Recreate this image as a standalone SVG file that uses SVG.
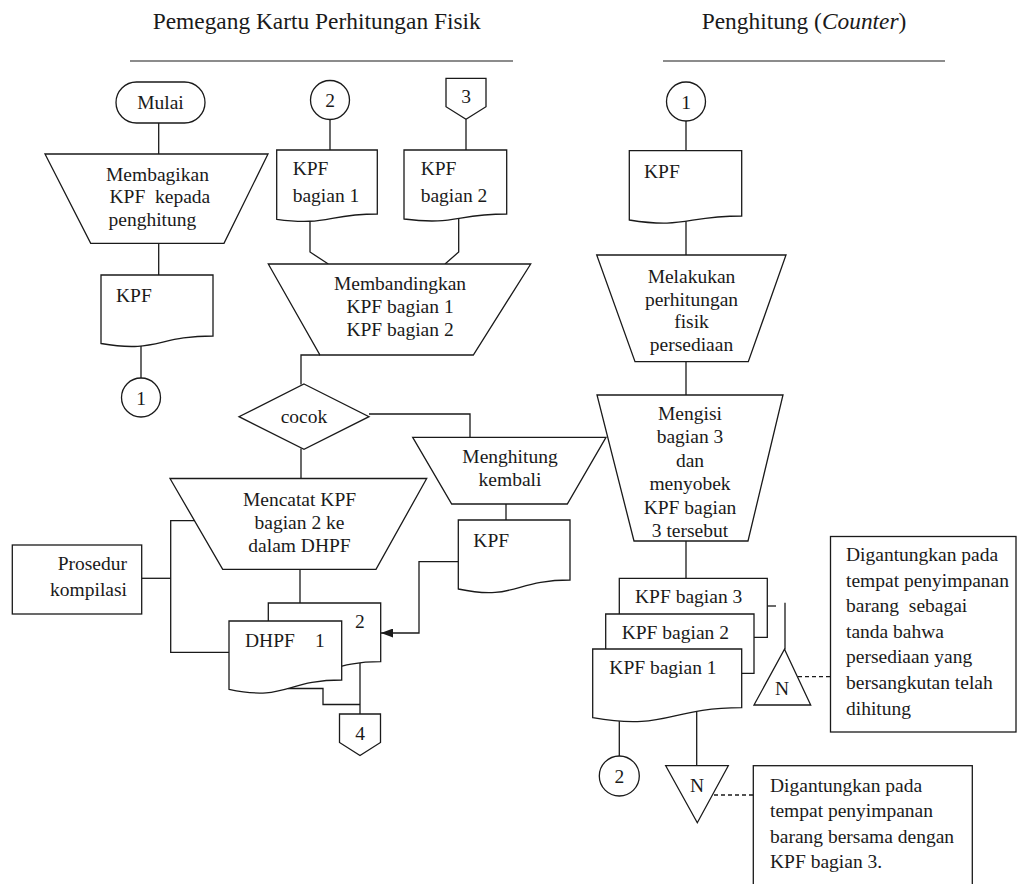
<svg xmlns="http://www.w3.org/2000/svg" width="1021" height="884" viewBox="0 0 1021 884">
  <style>
    .s { fill: #ffffff; stroke: #1a1a1a; stroke-width: 1.3; }
    .c { fill: none; stroke: #1a1a1a; stroke-width: 1.3; }
    .d { fill: none; stroke: #1a1a1a; stroke-width: 1.3; stroke-dasharray: 4 3; }
    .h { fill: none; stroke: #8c8c8c; stroke-width: 1.8; }
    .t { font-family: "Liberation Serif", "Times New Roman", serif; font-size: 19.5px; fill: #1a1a1a; }
    .m { text-anchor: middle; }
    .e { text-anchor: end; }
    .hd { font-family: "Liberation Serif", "Times New Roman", serif; font-size: 23.4px; fill: #1a1a1a; }
  </style>
  <defs>
    <marker id="arrow" markerUnits="userSpaceOnUse" markerWidth="12" markerHeight="9" refX="12" refY="4.5" orient="auto">
      <path d="M0,0 L12,4.5 L0,9 Z" fill="#1a1a1a"/>
    </marker>
  </defs>
  <rect width="1021" height="884" fill="#ffffff"/>

  <!-- lane headers -->
  <g id="headers">
    <text class="hd" x="152.7" y="29">Pemegang Kartu Perhitungan Fisik</text>
    <line class="h" x1="130" y1="61" x2="513" y2="61"/>
    <text class="hd" x="701.7" y="29">Penghitung (<tspan font-style="italic">Counter</tspan>)</text>
    <line class="h" x1="663" y1="61" x2="945" y2="61"/>
  </g>

  <!-- connectors -->
  <g id="connectors">
    <line class="c" x1="158.7" y1="123" x2="158.7" y2="154"/>
    <line class="c" x1="158.7" y1="243.3" x2="158.7" y2="275"/>
    <line class="c" x1="141" y1="345" x2="141" y2="378"/>
    <line class="c" x1="330" y1="119.5" x2="330" y2="150"/>
    <line class="c" x1="466" y1="119.3" x2="466" y2="150"/>
    <polyline class="c" points="310,221 310,252 328.3,264"/>
    <polyline class="c" points="458.7,218 458.7,252 445,264"/>
    <polyline class="c" points="320,355 301,355 301,384.5"/>
    <line class="c" x1="301" y1="448.5" x2="301" y2="478.5"/>
    <polyline class="c" points="369,414 470,414 470,437.3"/>
    <line class="c" x1="300" y1="569.3" x2="300" y2="603"/>
    <line class="c" x1="141.7" y1="578.3" x2="170.7" y2="578.3"/>
    <polyline class="c" points="195,520.7 170.7,520.7 170.7,652.3 229,652.3"/>
    <line class="c" x1="506" y1="504" x2="506" y2="520"/>
    <polyline class="c" points="458.3,561.7 419,561.7 419,633 381,633" marker-end="url(#arrow)"/>
    <line class="c" x1="360" y1="663" x2="360" y2="714"/>
    <polyline class="c" points="288,688.5 323,688.5 323,704.5 360,704.5"/>
    <line class="c" x1="686" y1="120.7" x2="686" y2="150.7"/>
    <line class="c" x1="686" y1="221" x2="686" y2="255"/>
    <line class="c" x1="686" y1="361.7" x2="686" y2="395"/>
    <line class="c" x1="686" y1="541" x2="686" y2="578.3"/>
    <line class="c" x1="767.3" y1="606" x2="776" y2="606"/>
    <line class="c" x1="785" y1="602.7" x2="785" y2="649.5"/>
    <line class="d" x1="798" y1="676.7" x2="830.5" y2="676.7"/>
    <line class="c" x1="619.3" y1="720" x2="619.3" y2="756"/>
    <line class="c" x1="696.7" y1="712" x2="696.7" y2="765.7"/>
    <line class="d" x1="714" y1="795" x2="753.3" y2="795"/>
  </g>

  <!-- left lane -->
  <g id="mulai">
    <rect class="s" x="116" y="82" width="89" height="41" rx="20.5"/>
    <text class="t m" x="160.5" y="109">Mulai</text>
  </g>
  <g id="membagikan">
    <polygon class="s" points="45,154 268,154 224,243.3 90.7,243.3"/>
    <text class="t" x="106" y="180.7">Membagikan</text>
    <text class="t" x="109.5" y="203" xml:space="preserve">KPF  kepada</text>
    <text class="t" x="108.5" y="226">penghitung</text>
  </g>
  <g id="kpf-out">
    <path class="s" d="M101,275 H213 V336 C157,336 157,353.3 101,343.5 Z"/>
    <text class="t" x="116" y="301.7">KPF</text>
  </g>
  <g id="conn-1a">
    <circle class="s" cx="141" cy="397.5" r="19.5"/>
    <text class="t m" x="141" y="405">1</text>
  </g>

  <g id="conn-2a">
    <circle class="s" cx="330" cy="100" r="19.5"/>
    <text class="t m" x="330" y="107">2</text>
  </g>
  <g id="conn-3">
    <path class="s" d="M446,78.3 H486 V106.7 L466,119.3 L446,106.7 Z"/>
    <text class="t m" x="466" y="103">3</text>
  </g>
  <g id="kpf-b1">
    <path class="s" d="M276.7,150 H377.3 V214 C327,214 327,226.2 276.7,219.3 Z"/>
    <text class="t" x="292.7" y="175">KPF</text>
    <text class="t" x="292.7" y="201.7">bagian 1</text>
  </g>
  <g id="kpf-b2">
    <path class="s" d="M404,150 H506.7 V214 C455.4,214 455.4,225.5 404,219 Z"/>
    <text class="t" x="420.7" y="175">KPF</text>
    <text class="t" x="420.7" y="201.7">bagian 2</text>
  </g>
  <g id="membandingkan">
    <polygon class="s" points="268.3,264 530.7,264 473.3,355 320,355"/>
    <text class="t m" x="400" y="290">Membandingkan</text>
    <text class="t m" x="400" y="313.3">KPF bagian 1</text>
    <text class="t m" x="400" y="336">KPF bagian 2</text>
  </g>
  <g id="cocok">
    <polygon class="s" points="304,384 369,416.7 304,449.3 239,416.7"/>
    <text class="t m" x="304" y="422.7">cocok</text>
  </g>
  <g id="mencatat">
    <polygon class="s" points="170,478.5 426.7,478.5 376,569.3 222.7,569.3"/>
    <text class="t m" x="299.5" y="506">Mencatat KPF</text>
    <text class="t m" x="299.5" y="529.3">bagian 2 ke</text>
    <text class="t m" x="299.5" y="552">dalam DHPF</text>
  </g>
  <g id="prosedur">
    <rect class="s" x="12.3" y="545" width="129.4" height="69"/>
    <text class="t e" x="127" y="570">Prosedur</text>
    <text class="t e" x="127" y="596">kompilasi</text>
  </g>
  <g id="dhpf">
    <path class="s" d="M268.3,603 H380.7 V661.7 C324.5,661.7 324.5,683.4 268.3,671 Z"/>
    <text class="t" x="355" y="627.7">2</text>
    <path class="s" d="M229,621 H341.7 V680 C285.4,680 285.4,701.5 229,689.3 Z"/>
    <text class="t" x="245" y="646.7">DHPF</text>
    <text class="t" x="315" y="646.7">1</text>
  </g>
  <g id="conn-4">
    <path class="s" d="M339.5,714 H380.5 V742.5 L360,755.5 L339.5,742.5 Z"/>
    <text class="t m" x="360" y="740">4</text>
  </g>
  <g id="menghitung">
    <polygon class="s" points="412.7,437.3 606,437.3 567.3,504 451.7,504"/>
    <text class="t m" x="510" y="463.3">Menghitung</text>
    <text class="t m" x="510" y="486">kembali</text>
  </g>
  <g id="kpf-recount">
    <path class="s" d="M458.3,520 H570 V580 C514.2,580 514.2,601 458.3,589 Z"/>
    <text class="t" x="473.3" y="546.7">KPF</text>
  </g>

  <!-- right lane -->
  <g id="conn-1b">
    <circle class="s" cx="686" cy="101.5" r="19.5"/>
    <text class="t m" x="686" y="108.5">1</text>
  </g>
  <g id="kpf-in">
    <path class="s" d="M629.3,150.7 H741.7 V216 C685.5,216 685.5,229 629.3,220 Z"/>
    <text class="t" x="644" y="178.3">KPF</text>
  </g>
  <g id="melakukan">
    <polygon class="s" points="596.7,255 786,255 748.3,361.7 635,361.7"/>
    <text class="t m" x="691.5" y="283">Melakukan</text>
    <text class="t m" x="691.5" y="305.7">perhitungan</text>
    <text class="t m" x="691.5" y="328.4">fisik</text>
    <text class="t m" x="691.5" y="351">persediaan</text>
  </g>
  <g id="mengisi">
    <polygon class="s" points="597,395 783,395 748,541 634,541"/>
    <text class="t m" x="690" y="419.5">Mengisi</text>
    <text class="t m" x="690" y="443">bagian 3</text>
    <text class="t m" x="690" y="466.5">dan</text>
    <text class="t m" x="690" y="490">menyobek</text>
    <text class="t m" x="690" y="513.5">KPF bagian</text>
    <text class="t m" x="690" y="537">3 tersebut</text>
  </g>
  <g id="kpf-set">
    <path class="s" d="M619.3,614 V578.3 H767.3 V637.3 H754"/>
    <text class="t" x="635" y="603.3">KPF bagian 3</text>
    <path class="s" d="M605.7,649 V614 H754 V673.3 H741.7"/>
    <text class="t" x="621.7" y="639.3">KPF bagian 2</text>
    <path class="s" d="M592.7,649 H741.7 V707.7 C667.2,707.7 667.2,730.7 592.7,717.7 Z"/>
    <text class="t" x="609.3" y="674">KPF bagian 1</text>
  </g>
  <g id="file-n1">
    <polygon class="s" points="784.5,649.3 810.7,705 754,705"/>
    <text class="t m" x="782" y="695">N</text>
  </g>
  <g id="note-1">
    <rect class="s" x="830.5" y="536.5" width="185.5" height="195.5"/>
    <text class="t" x="846" y="561">Digantungkan pada</text>
    <text class="t" x="846" y="586.6">tempat penyimpanan</text>
    <text class="t" x="846" y="612.2" xml:space="preserve">barang  sebagai</text>
    <text class="t" x="846" y="637.8">tanda bahwa</text>
    <text class="t" x="846" y="663.4">persediaan yang</text>
    <text class="t" x="846" y="689">bersangkutan telah</text>
    <text class="t" x="846" y="714.6">dihitung</text>
  </g>
  <g id="conn-2b">
    <circle class="s" cx="619.3" cy="776" r="20"/>
    <text class="t m" x="619.3" y="783">2</text>
  </g>
  <g id="file-n2">
    <polygon class="s" points="665.7,765.7 728.3,765.7 697.3,822.7"/>
    <text class="t m" x="697" y="791.7">N</text>
  </g>
  <g id="note-2">
    <rect class="s" x="753.3" y="765.7" width="219" height="130"/>
    <text class="t" x="770" y="791.7">Digantungkan pada</text>
    <text class="t" x="770" y="817.2">tempat penyimpanan</text>
    <text class="t" x="770" y="842.7">barang bersama dengan</text>
    <text class="t" x="770" y="868.2">KPF bagian 3.</text>
  </g>
</svg>
